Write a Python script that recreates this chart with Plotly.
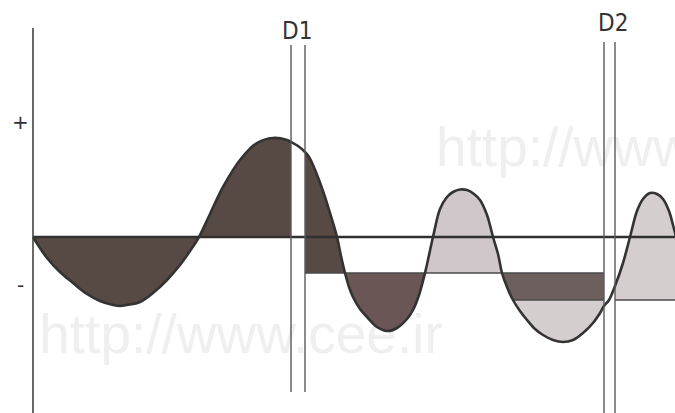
import plotly.graph_objects as go

# Waveform samples: time (t) and amplitude (v)
wave_t = [0, 14, 27, 40, 54, 67, 80, 87, 94, 107, 120, 134, 147, 157, 166, 177, 190, 207, 224, 240,
          254, 258, 265, 272, 276, 280, 290, 297, 304, 308, 312, 316, 320, 327, 334, 344, 354, 364, 374, 380,
          386, 392, 400, 407, 414, 420, 427, 434, 441, 447, 454, 460, 465, 469, 474, 480, 487, 494, 502, 510,
          520, 530, 540, 550, 560, 567, 571, 576, 582, 590, 597, 604, 610, 617, 624, 630, 636, 640, 645]
wave_v = [0, -21, -35, -46, -57, -64, -68, -69, -68, -65, -56, -43, -28, -14, 0, 23, 50, 77, 94, 99,
          97, 95, 91, 85, 80, 72, 46, 24, 0, -19, -36, -50, -60, -72, -80, -90, -94, -91, -82, -73,
          -58, -36, 0, 28, 40, 45, 47.5, 47, 43, 37, 22, 0, -17, -36, -50, -63, -74, -83, -92, -98,
          -103, -105, -103, -96, -86, -76, -69, -63, -49, -26, 0, 26, 38, 44, 43, 38, 26, 12, -8]

# Reference levels: original zero line, level after D1, level after D2
levels = [0, -36, -63]
# Dropout markers (pairs of times)
d1_t = [258, 272]
d2_t = [571, 582]
marker_names = ["D1", "D2"]

DARK = "#574943"
DARK_RED = "#6a5654"
BAND = "#6c5f5d"
LIGHT = "#cfc7c9"
LIGHT2 = "#d4cecf"


def seg(t0, t1):
    idx = [i for i, t in enumerate(wave_t) if t0 <= t <= t1]
    return [wave_t[i] for i in idx], [wave_v[i] for i in idx]


fig = go.Figure()

# faint site watermark behind everything
wm_font = dict(family="Liberation Sans, Arial", size=55, color="#efefef")
fig.add_trace(go.Scatter(x=[208], y=[-102], mode="text", text=["http://www.cee.ir"],
                         textposition="middle center", textfont=wm_font, hoverinfo="skip"))
fig.add_trace(go.Scatter(x=[403], y=[85], mode="text", text=["http://www"],
                         textposition="middle right", textfont=wm_font, hoverinfo="skip"))


def fill_between(t0, t1, level, color):
    xs, ys = seg(t0, t1)
    fig.add_trace(go.Scatter(x=[xs[0], xs[-1]], y=[level, level], mode="lines",
                             line=dict(width=0), hoverinfo="skip"))
    fig.add_trace(go.Scatter(x=xs, y=ys, mode="lines", line=dict(width=0, shape="spline"),
                             fill="tonexty", fillcolor=color, hoverinfo="skip"))


# before D1: around the zero line
fill_between(0, d1_t[0], levels[0], DARK)
# between D1 and D2: around the first shifted level
fill_between(d1_t[1], 312, levels[1], DARK)
fill_between(312, 392, levels[1], DARK_RED)
fill_between(392, 469, levels[1], LIGHT)
# band between the two shifted levels
fig.add_trace(go.Scatter(x=[469, 474, 480, d2_t[0], d2_t[0], 469],
                         y=[levels[1], -50, levels[2], levels[2], levels[1], levels[1]],
                         mode="lines", line=dict(width=0), fill="toself", fillcolor=BAND, hoverinfo="skip"))
fill_between(480, d2_t[0], levels[2], LIGHT2)
# after D2: around the second shifted level
fill_between(d2_t[1], 645, levels[2], LIGHT2)

# level lines
fig.add_trace(go.Scatter(x=[0, 645], y=[levels[0]] * 2, mode="lines",
                         line=dict(color="#303030", width=2.4), hoverinfo="skip"))
fig.add_trace(go.Scatter(x=[d1_t[1], d2_t[0]], y=[levels[1]] * 2, mode="lines",
                         line=dict(color="#4a4a4a", width=1.5), hoverinfo="skip"))
fig.add_trace(go.Scatter(x=[480, d2_t[0], None, d2_t[1], 645], y=[levels[2]] * 2 + [None] + [levels[2]] * 2,
                         mode="lines", line=dict(color="#4a4a4a", width=1.5), hoverinfo="skip"))

# waveform outline
fig.add_trace(go.Scatter(x=wave_t, y=wave_v, mode="lines",
                         line=dict(color="#333333", width=2.6, shape="spline"), hoverinfo="skip"))

# vertical axis and marker lines
shapes = [dict(type="line", x0=0, x1=0, y0=209, y1=-176, line=dict(color="#444444", width=1.6))]
for t in d1_t:
    shapes.append(dict(type="line", x0=t, x1=t, y0=192, y1=-155, line=dict(color="#5a5a5a", width=1.4)))
for t in d2_t:
    shapes.append(dict(type="line", x0=t, x1=t, y0=195, y1=-176, line=dict(color="#5a5a5a", width=1.4)))

label_font = dict(family="Liberation Sans Narrow, DejaVu Sans Condensed, Arial", size=24, color="#333333")
sign_font = dict(family="DejaVu Sans, Arial", size=20, color="#333333")
annotations = [
    dict(x=sum(d1_t) / 2 - 1, y=206, text=marker_names[0], showarrow=False, font=label_font),
    dict(x=sum(d2_t) / 2 + 3, y=214, text=marker_names[1], showarrow=False, font=label_font),
    dict(x=-13, y=115, text="+", showarrow=False, font=sign_font),
    dict(x=-13, y=-48, text="-", showarrow=False, font=sign_font),
]

fig.update_layout(
    width=675, height=413,
    margin=dict(l=0, r=0, t=0, b=0),
    paper_bgcolor="white", plot_bgcolor="white",
    showlegend=False,
    xaxis=dict(range=[-33, 642], visible=False, fixedrange=True),
    yaxis=dict(range=[-176, 237], visible=False, fixedrange=True),
    shapes=shapes,
    annotations=annotations,
)

fig.write_html("out.html")
